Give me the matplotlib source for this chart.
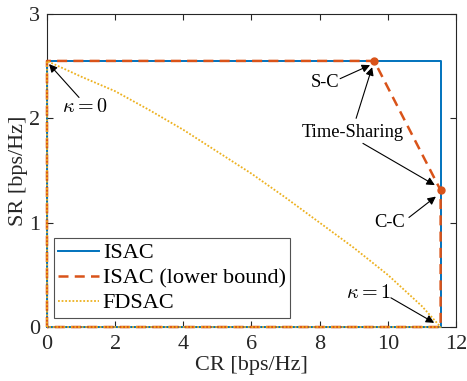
# Rate region: ISAC vs FDSAC
import numpy as np
import matplotlib.pyplot as plt

plt.rcParams['font.family'] = ['Liberation Serif', 'DejaVu Serif']
plt.rcParams['mathtext.fontset'] = 'cm'

# ---- data ----
cr_max = 11.55   # C-C communication rate
sr_max = 2.55    # S-C sensing rate
sc_cr = 9.6      # CR at the S-C point
cc_sr = 1.31     # SR at the C-C point

isac_cr = [0, 0, cr_max, cr_max, 0]
isac_sr = [0, sr_max, sr_max, 0, 0]

lb_cr = [0, 0, sc_cr, cr_max, cr_max, 0]
lb_sr = [0, sr_max, sr_max, cc_sr, 0, 0]

fd_cr = [0, 0, 1, 2, 3, 4, 5, 6, 7, 8, 9, 10, 11, 11.55, 0]
fd_sr = [0, 2.55, 2.40, 2.26, 2.08, 1.89, 1.68, 1.47, 1.24, 1.00, 0.76, 0.50, 0.20, 0, 0]

blue = '#0072BD'
orange = '#D95319'
yellow = '#EDB120'

fig = plt.figure(figsize=(4.67, 3.81), dpi=100)
ax = fig.add_axes([0.1006, 0.1417, 0.8758, 0.8216])

ax.plot(isac_cr, isac_sr, color=blue, lw=1.4, label='ISAC', clip_on=False, zorder=3)
ax.plot(lb_cr, lb_sr, color=orange, lw=1.8, ls=(0, (4, 2.5)), label='ISAC (lower bound)',
        clip_on=False, zorder=4)
ax.plot(fd_cr, fd_sr, color=yellow, lw=1.3, ls=(0, (1, 1)), label='FDSAC', clip_on=False, zorder=5)
ax.plot([sc_cr, cr_max], [sr_max, cc_sr], 'o', color=orange, ms=5, zorder=6, clip_on=False)

ax.set_xlim(0, 12)
ax.set_ylim(0, 3)
ax.set_xticks(np.arange(0, 13, 2))
ax.set_yticks([0, 1, 2, 3])
ax.tick_params(direction='in', top=True, right=True, labelsize=16, length=4,
               color='#262626', labelcolor='#262626')
ax.tick_params(axis='x', pad=6)
ax.tick_params(axis='y', pad=5)
for s in ax.spines.values():
    s.set_color('#262626')
    s.set_linewidth(0.8)
ax.set_xlabel('CR [bps/Hz]', fontsize=16, color='#262626', labelpad=1)
ax.set_ylabel('SR [bps/Hz]', fontsize=16, color='#262626', labelpad=1)

# annotations
arr = dict(arrowstyle='-|>', color='black', lw=0.8, mutation_scale=12, shrinkA=0, shrinkB=0)
fs = 13.3
ax.text(1.12, 2.10, r'$\kappa=0$', fontsize=14.5, ha='center', va='center')
ax.annotate('', xy=(0.06, 2.52), xytext=(0.94, 2.20), arrowprops=arr)

ax.text(8.16, 2.34, 'S-C', fontsize=fs, ha='center', va='center')
ax.annotate('', xy=(9.48, 2.51), xytext=(8.6, 2.38), arrowprops=arr)

ax.text(8.98, 1.86, 'Time-Sharing', fontsize=fs, ha='center', va='center')
ax.annotate('', xy=(9.54, 2.49), xytext=(9.07, 2.0), arrowprops=arr)
ax.annotate('', xy=(11.38, 1.36), xytext=(9.27, 1.76), arrowprops=arr)

ax.text(10.04, 1.0, 'C-C', fontsize=fs, ha='center', va='center')
ax.annotate('', xy=(11.41, 1.25), xytext=(10.62, 1.05), arrowprops=arr)

ax.text(9.42, 0.32, r'$\kappa=1$', fontsize=14.5, ha='center', va='center')
ax.annotate('', xy=(11.36, 0.04), xytext=(10.09, 0.28), arrowprops=arr)

leg = ax.legend(loc='lower left', bbox_to_anchor=(0.017, 0.029), fontsize=16, frameon=True,
                fancybox=False, edgecolor='#262626', handlelength=1.85, handletextpad=0.15,
                borderpad=0.2, labelspacing=0.2, borderaxespad=0)
leg.get_frame().set_linewidth(0.8)

fig.savefig('out.png', dpi=100)
